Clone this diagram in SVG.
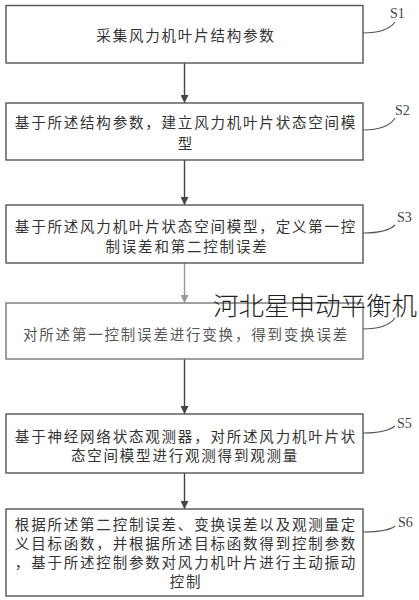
<svg xmlns="http://www.w3.org/2000/svg" width="419" height="600" viewBox="0 0 419 600">
<style>
.box{fill:#fff;stroke:#555;stroke-width:1.4}
.t{font-family:"Noto Sans CJK SC","Noto Sans CJK JP",sans-serif;font-size:14.5px;letter-spacing:1.8px;fill:#333;text-anchor:middle;dominant-baseline:central}
.lbl{font-family:"Liberation Serif",serif;font-size:14px;fill:#444}
.lead{fill:none;stroke:#555;stroke-width:1.1}
.arr{stroke:#444;stroke-width:1.4;fill:none}
</style>
<defs>
<marker id="ah" viewBox="0 0 10 10" refX="10" refY="5" markerWidth="8" markerHeight="8" markerUnits="userSpaceOnUse" orient="auto">
<path d="M0,0 L10,5 L0,10 z" fill="#444"/>
</marker>
<marker id="ahl" viewBox="0 0 10 10" refX="10" refY="5" markerWidth="8" markerHeight="8" markerUnits="userSpaceOnUse" orient="auto">
<path d="M0,0 L10,5 L0,10 z" fill="#999"/>
</marker>
</defs>
<rect width="419" height="600" fill="#fff"/>
<g id="connectors">
<line class="arr" x1="184.5" y1="63" x2="184.5" y2="103" marker-end="url(#ah)"/>
<line class="arr" x1="184.5" y1="160" x2="184.5" y2="205" marker-end="url(#ah)"/>
<line x1="184.5" y1="263" x2="184.5" y2="303" stroke="#999" stroke-width="1.4" marker-end="url(#ahl)"/>
<line class="arr" x1="184.5" y1="359" x2="184.5" y2="414" marker-end="url(#ah)"/>
<line class="arr" x1="184.5" y1="473" x2="184.5" y2="509" marker-end="url(#ah)"/>
</g>
<g id="s1">
<rect class="box" x="6" y="5.5" width="357" height="57.5"/>
<text class="t" x="186" y="34.5">采集风力机叶片结构参数</text>
<path class="lead" d="M363,33 C380,33 390,29 395,22"/>
<text class="lbl" x="390" y="18">S1</text>
</g>
<g id="s2">
<rect class="box" x="6" y="103" width="357" height="57"/>
<text class="t" x="186" y="121">基于所述结构参数，建立风力机叶片状态空间模</text>
<text class="t" x="186" y="142">型</text>
<path class="lead" d="M363,130 C380,130 390,126 395,118"/>
<text class="lbl" x="395" y="115">S2</text>
</g>
<g id="s3">
<rect class="box" x="6" y="205" width="357" height="58"/>
<text class="t" x="186" y="225">基于所述风力机叶片状态空间模型，定义第一控</text>
<text class="t" x="187" y="245">制误差和第二控制误差</text>
<path class="lead" d="M363,233 C380,233 390,230 395,225"/>
<text class="lbl" x="397" y="222">S3</text>
</g>
<g id="s4">
<rect x="6" y="303" width="357" height="56" fill="#fff" stroke="#777" stroke-width="1.4"/>
<text class="t" x="186" y="333" style="fill:#555">对所述第一控制误差进行变换，得到变换误差</text>
<path class="lead" d="M363,329 C380,329 390,325 395,318"/>
</g>
<g id="s5">
<rect class="box" x="6" y="414" width="357" height="59"/>
<text class="t" x="186" y="435">基于神经网络状态观测器，对所述风力机叶片状</text>
<text class="t" x="185" y="454">态空间模型进行观测得到观测量</text>
<path class="lead" d="M363,433 C380,433 390,430 395,426"/>
<text class="lbl" x="397" y="428">S5</text>
</g>
<g id="s6">
<rect class="box" x="6" y="509" width="357" height="87"/>
<text class="t" x="186" y="523">根据所述第二控制误差、变换误差以及观测量定</text>
<text class="t" x="186" y="542">义目标函数，并根据所述目标函数得到控制参数</text>
<text class="t" x="186" y="561">，基于所述控制参数对风力机叶片进行主动振动</text>
<text class="t" x="186" y="580">控制</text>
<path class="lead" d="M363,532 C380,532 390,530 395,526"/>
<text class="lbl" x="398" y="527">S6</text>
</g>
<text x="213" y="315" font-family="'Noto Sans CJK SC',sans-serif" font-size="25.5" font-weight="300" fill="#222">河北星申动平衡机</text>
</svg>
